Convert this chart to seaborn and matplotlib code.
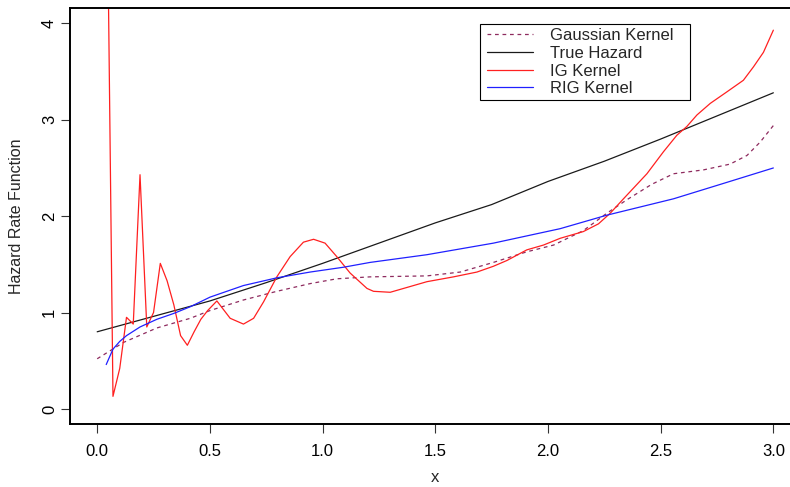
import numpy as np
import pandas as pd
import matplotlib
matplotlib.use("Agg")
import matplotlib.pyplot as plt
import seaborn as sns
from matplotlib.lines import Line2D
from matplotlib.legend_handler import HandlerLine2D

# ---------------- data ----------------
x_true = [0.0, 0.25, 0.5, 0.75, 1.0, 1.25, 1.5, 1.75, 2.0, 2.25, 2.5, 2.75, 3.0]
y_true = [0.80, 0.96, 1.12, 1.31, 1.51, 1.72, 1.93, 2.12, 2.36, 2.57, 2.80, 3.04, 3.28]

x_gauss = [0.0, 0.117, 0.265, 0.413, 0.50, 0.649, 0.797, 0.945, 1.063, 1.211, 1.463,
           1.611, 1.758, 1.906, 2.025, 2.157, 2.261, 2.35, 2.46, 2.557, 2.69, 2.808,
           2.883, 2.942, 3.0]
y_gauss = [0.52, 0.69, 0.84, 0.94, 1.02, 1.13, 1.22, 1.30, 1.35, 1.37, 1.38,
           1.42, 1.52, 1.63, 1.70, 1.85, 2.03, 2.17, 2.33, 2.44, 2.48, 2.54,
           2.63, 2.77, 2.94]

x_ig = [0.04, 0.07, 0.10, 0.13, 0.16, 0.19, 0.22, 0.25, 0.28, 0.31, 0.34, 0.37, 0.40,
        0.43, 0.46, 0.49, 0.531, 0.59, 0.649, 0.694, 0.738, 0.797, 0.856, 0.915,
        0.96, 1.011, 1.063, 1.122, 1.197, 1.226, 1.30, 1.389, 1.463, 1.581, 1.685,
        1.758, 1.818, 1.906, 1.98, 2.054, 2.157, 2.224, 2.276, 2.335, 2.439, 2.513,
        2.572, 2.616, 2.661, 2.72, 2.794, 2.867, 2.912, 2.956, 3.0]
y_ig = [6.30, 0.13, 0.42, 0.95, 0.88, 2.43, 0.85, 1.00, 1.51, 1.33, 1.08, 0.76, 0.66,
        0.80, 0.93, 1.02, 1.12, 0.94, 0.88, 0.94, 1.11, 1.37, 1.58, 1.73,
        1.76, 1.72, 1.58, 1.41, 1.25, 1.22, 1.21, 1.27, 1.32, 1.37, 1.42,
        1.48, 1.54, 1.65, 1.70, 1.77, 1.84, 1.92, 2.03, 2.18, 2.44, 2.67,
        2.84, 2.93, 3.05, 3.17, 3.29, 3.41, 3.55, 3.70, 3.93]

x_rig = [0.04, 0.07, 0.10, 0.13, 0.19, 0.265, 0.339, 0.413, 0.501, 0.649, 0.797, 0.945,
         1.093, 1.211, 1.463, 1.758, 2.054, 2.261, 2.557, 2.779, 3.0]
y_rig = [0.46, 0.62, 0.70, 0.76, 0.85, 0.93, 0.99, 1.06, 1.16, 1.28, 1.36, 1.42,
         1.47, 1.52, 1.60, 1.72, 1.87, 2.01, 2.18, 2.34, 2.50]

labels = ["Gaussian Kernel", "True Hazard", "IG Kernel", "RIG Kernel"]
x_ticks = [0.0, 0.5, 1.0, 1.5, 2.0, 2.5, 3.0]
x_ticklabels = ["0.0", "0.5", "1.0", "1.5", "2.0", "2.5", "3.0"]
y_ticks = [0, 1, 2, 3, 4]
y_ticklabels = ["0", "1", "2", "3", "4"]

# ---------------- style ----------------
sns.set_theme(style="ticks")
plt.rcParams['font.family'] = ['Liberation Sans', 'DejaVu Sans']
plt.rcParams['axes.facecolor'] = 'white'
plt.rcParams['figure.facecolor'] = 'white'
plt.rcParams['legend.numpoints'] = 1

c_gauss = "#8E2A5E"
c_true = "#1a1a1a"
c_ig = "#FF2020"
c_rig = "#2020FF"
lw = 0.9
dash = (0, (3.0, 3.0))

W, H = 790, 487
fig = plt.figure(figsize=(W / 100, H / 100), dpi=100)
ax_l, ax_r, ax_t, ax_b = 70.15, 800.4, 8.0, 424.3
ax = fig.add_axes([ax_l / W, 1 - ax_b / H, (ax_r - ax_l) / W, (ax_b - ax_t) / H])

sns.lineplot(x=x_gauss, y=y_gauss, ax=ax, color=c_gauss, lw=lw, linestyle=dash,
             estimator=None, sort=False)
sns.lineplot(x=x_true, y=y_true, ax=ax, color=c_true, lw=lw, estimator=None, sort=False)
sns.lineplot(x=x_ig, y=y_ig, ax=ax, color=c_ig, lw=lw, estimator=None, sort=False)
sns.lineplot(x=x_rig, y=y_rig, ax=ax, color=c_rig, lw=lw, estimator=None, sort=False)

ax.set_xlim(-0.12, 3.12)
ax.set_ylim(-0.16, 4.16)
ax.grid(False)

for s in ax.spines.values():
    s.set_visible(True)
    s.set_color("black")
    s.set_linewidth(1.4)

ax.set_xticks(x_ticks)
ax.set_xticklabels(x_ticklabels)
ax.set_yticks(y_ticks)
ax.set_yticklabels(y_ticklabels)
ax.tick_params(axis='both', direction='out', length=6.8, width=0.8, color='#333333',
               labelsize=12, labelcolor='black')
ax.tick_params(axis='x', pad=7.2)
ax.tick_params(axis='y', pad=2.7, labelrotation=90)
for lbl in ax.get_yticklabels():
    lbl.set_va('center')

ax.set_xlabel("x", fontsize=12, va='center')
ax.xaxis.set_label_coords(0.5, (ax_b - 477) / (ax_b - ax_t))
ax.set_ylabel("Hazard Rate Function", fontsize=11.5, va='center')
ax.yaxis.set_label_coords((17 - ax_l) / (ax_r - ax_l), 0.5)


# ---------------- legend ----------------
class PadHandler(HandlerLine2D):
    def __init__(self, lpad, **kw):
        super().__init__(**kw)
        self.lpad = lpad

    def create_artists(self, legend, orig_handle, xdescent, ydescent, width, height,
                       fontsize, trans):
        arts = super().create_artists(legend, orig_handle, xdescent, ydescent, width,
                                      height, fontsize, trans)
        line = arts[0]
        xd = np.asarray(line.get_xdata(), dtype=float)
        yd = np.asarray(line.get_ydata(), dtype=float)
        n = len(yd)
        line.set_data(np.linspace(xd.min() + self.lpad, xd.max(), n), yd)
        return arts


handles = [
    Line2D([], [], color=c_gauss, lw=lw, linestyle=dash),
    Line2D([], [], color=c_true, lw=lw),
    Line2D([], [], color=c_ig, lw=lw),
    Line2D([], [], color=c_rig, lw=lw),
]
fs_leg = 12
fs_px = fs_leg * 100 / 72
bp = 0.25
lpad_px = 487 - (480 + bp * fs_px)
hl = (533 - (480 + bp * fs_px)) / fs_px
aw, ah = ax_r - ax_l, ax_b - ax_t
bbox = ((480 - ax_l) / aw, (ax_b - 103) / ah, (690 - 480) / aw, (103 - 24) / ah)
leg = ax.legend(handles, labels, loc='upper left', bbox_to_anchor=bbox, mode='expand',
                borderaxespad=0, frameon=True, fancybox=False, framealpha=1,
                edgecolor='black', fontsize=fs_leg, borderpad=bp,
                handlelength=hl, handletextpad=1.0, labelspacing=0.16,
                handler_map={h: PadHandler(lpad_px * 72 / 100) for h in handles})
leg.get_frame().set_linewidth(0.8)

fig.savefig("out.png", dpi=100)
